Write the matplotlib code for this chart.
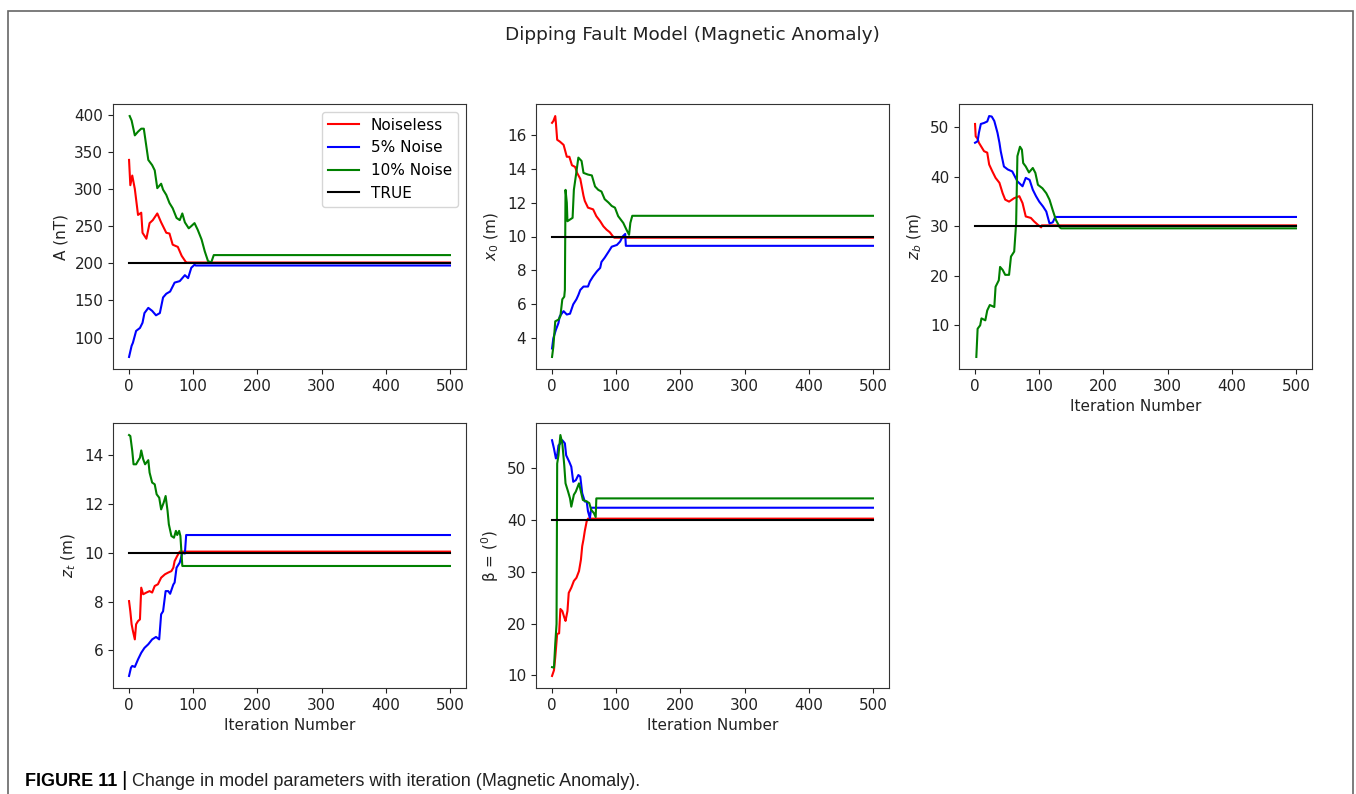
import matplotlib
matplotlib.use("Agg")
import matplotlib.pyplot as plt
from matplotlib.patches import Rectangle

# ---------------- data ----------------
series_labels = ["Noiseless", "5% Noise", "10% Noise", "TRUE"]
series_colors = ["red", "blue", "green", "black"]
ylabels = ["A (nT)", "$x_0$ (m)", "$z_b$ (m)", "$z_t$ (m)", "β = ($^0$)"]
true_values = [200, 10, 30, 10, 40]
n_iter = 500

# Panel A
A_noiseless_it = [0, 2, 5, 9, 14, 19, 21, 27, 32, 37, 44, 50, 58, 63, 68, 76, 82, 89, 90, 500]
A_noiseless_v = [339, 305, 318, 300, 265, 268, 241, 233, 254, 258, 267, 255, 241, 240, 225, 222, 210, 201, 201, 201]
A_n5_it = [0, 4, 6, 11, 17, 21, 24, 30, 36, 42, 48, 53, 58, 64, 71, 79, 87, 92, 97, 102, 104, 500]
A_n5_v = [74, 89, 93, 109, 113, 120, 133, 140, 136, 130, 133, 154, 159, 162, 174, 176, 184, 180, 194, 198, 197, 197]
A_n10_it = [1, 4, 9, 14, 19, 23, 27, 30, 36, 40, 44, 50, 53, 58, 63, 68, 74, 79, 83, 87, 93, 97, 102, 107, 113, 118, 123, 128, 132, 500]
A_n10_v = [398, 392, 372, 377, 381, 381, 357, 339, 332, 325, 301, 307, 299, 292, 281, 274, 261, 258, 267, 255, 247, 250, 254, 245, 232, 216, 203, 201, 211, 211]

# Panel x0
X0_noiseless_it = [0, 2, 5, 6, 8, 12, 18, 23, 27, 31, 36, 39, 44, 49, 51, 56, 64, 69, 75, 80, 85, 90, 95, 97, 500]
X0_noiseless_v = [16.7, 16.8, 17.1, 16.7, 15.7, 15.6, 15.4, 14.7, 14.7, 14.2, 14.1, 13.75, 13.4, 12.4, 12.1, 11.7, 11.6, 11.2, 10.9, 10.6, 10.4, 10.25, 10.0, 9.93, 9.93]
X0_n5_it = [0, 2, 6, 10, 12, 18, 23, 28, 33, 38, 41, 44, 49, 56, 59, 64, 70, 75, 77, 82, 88, 93, 101, 106, 110, 114, 115, 500]
X0_n5_v = [3.4, 4.0, 4.5, 4.9, 5.3, 5.6, 5.4, 5.45, 6.0, 6.3, 6.55, 6.85, 7.05, 7.05, 7.35, 7.65, 7.95, 8.15, 8.5, 8.75, 9.1, 9.4, 9.5, 9.7, 10.0, 10.15, 9.45, 9.45]
X0_n10_it = [0, 2, 5, 10, 13, 16, 19, 20, 21, 23, 24, 28, 32, 34, 37, 41, 46, 49, 56, 62, 67, 72, 77, 82, 88, 93, 98, 103, 111, 116, 120, 122, 125, 500]
X0_n10_v = [2.9, 3.5, 5.0, 5.1, 5.3, 6.3, 6.45, 6.85, 12.75, 12.0, 10.9, 11.0, 11.1, 12.75, 13.55, 14.65, 14.45, 13.75, 13.65, 13.6, 12.95, 12.75, 12.65, 12.2, 12.0, 11.8, 11.7, 11.2, 10.8, 10.4, 10.1, 10.8, 11.22, 11.22]

# Panel zb
ZB_noiseless_it = [0, 1, 4, 6, 14, 19, 22, 27, 32, 38, 43, 47, 53, 61, 69, 74, 79, 87, 92, 98, 103, 104, 500]
ZB_noiseless_v = [50.7, 48.2, 47.7, 46.9, 45.2, 44.9, 42.5, 41.1, 39.8, 38.8, 36.7, 35.4, 35.0, 35.7, 36.1, 34.7, 32.0, 31.7, 31.0, 30.3, 29.8, 30.2, 30.2]
ZB_n5_it = [0, 4, 6, 9, 14, 19, 22, 26, 30, 35, 38, 40, 45, 51, 58, 66, 74, 79, 85, 90, 95, 100, 106, 111, 116, 121, 125, 500]
ZB_n5_v = [46.9, 47.2, 48.9, 50.7, 50.9, 51.2, 52.3, 52.2, 51.3, 48.9, 46.9, 45.2, 42.1, 41.5, 41.1, 39.1, 38.1, 39.8, 39.4, 37.4, 36.1, 35.0, 34.0, 33.0, 30.6, 30.8, 31.9, 31.9]
ZB_n10_it = [2, 4, 8, 10, 16, 19, 23, 30, 32, 37, 39, 43, 47, 53, 56, 61, 64, 66, 70, 73, 75, 79, 84, 90, 94, 98, 105, 111, 116, 121, 126, 132, 134, 500]
ZB_n10_v = [3.6, 9.3, 10.0, 11.4, 11.0, 13.0, 14.1, 13.7, 17.8, 19.1, 21.8, 21.2, 20.2, 20.2, 23.9, 24.9, 30.6, 44.2, 46.1, 45.5, 42.8, 42.1, 40.9, 41.8, 40.8, 38.4, 37.7, 36.7, 35.4, 33.3, 31.3, 29.8, 29.6, 29.6]

# Panel zt
ZT_noiseless_it = [0, 2, 4, 6, 9, 11, 14, 17, 19, 22, 27, 32, 36, 40, 45, 50, 56, 61, 66, 69, 71, 75, 79, 500]
ZT_noiseless_v = [8.02, 7.6, 7.07, 6.8, 6.45, 7.07, 7.2, 7.27, 8.57, 8.3, 8.37, 8.43, 8.37, 8.64, 8.71, 8.98, 9.12, 9.19, 9.25, 9.39, 9.66, 9.87, 10.05, 10.05]
ZT_n5_it = [0, 3, 5, 9, 14, 19, 24, 30, 36, 42, 47, 50, 53, 57, 61, 64, 69, 71, 74, 79, 83, 87, 89, 500]
ZT_n5_v = [4.95, 5.29, 5.36, 5.32, 5.63, 5.9, 6.1, 6.25, 6.45, 6.55, 6.45, 7.48, 7.6, 8.43, 8.43, 8.32, 8.7, 8.78, 9.39, 9.6, 10.0, 9.97, 10.73, 10.73]
ZT_n10_it = [0, 2, 5, 7, 11, 14, 17, 19, 22, 25, 30, 32, 36, 40, 43, 47, 50, 54, 57, 60, 62, 66, 70, 73, 75, 78, 80, 82, 83, 500]
ZT_n10_v = [14.83, 14.79, 14.18, 13.63, 13.63, 13.77, 13.9, 14.2, 13.84, 13.63, 13.8, 13.29, 12.88, 12.81, 12.4, 12.26, 11.78, 12.06, 12.33, 11.72, 11.17, 10.69, 10.62, 10.9, 10.73, 10.9, 10.69, 9.87, 9.46, 9.46]

# Panel beta
B_noiseless_it = [0, 3, 5, 8, 11, 13, 16, 19, 21, 24, 26, 30, 34, 38, 42, 45, 47, 49, 51, 54, 56, 500]
B_noiseless_v = [9.9, 11.0, 13.5, 18.0, 18.1, 22.8, 22.4, 21.2, 20.5, 22.4, 25.9, 26.9, 28.2, 28.8, 30.1, 32.3, 34.9, 36.2, 37.8, 39.7, 40.2, 40.2]
B_n5_it = [0, 3, 6, 8, 10, 13, 16, 20, 22, 27, 30, 33, 37, 41, 44, 47, 51, 54, 56, 59, 61, 500]
B_n5_v = [55.3, 53.7, 51.8, 52.4, 54.3, 54.7, 55.3, 54.7, 52.4, 51.1, 50.2, 47.3, 47.6, 48.6, 48.3, 45.1, 43.5, 43.5, 41.6, 40.3, 42.3, 42.3]
B_n10_it = [0, 3, 5, 7, 8, 10, 13, 16, 19, 21, 25, 28, 30, 34, 37, 42, 45, 48, 54, 58, 61, 65, 68, 69, 500]
B_n10_v = [11.6, 11.5, 16.1, 19.9, 50.8, 52.4, 56.3, 54.7, 50.5, 47.0, 45.4, 44.1, 42.5, 44.8, 45.4, 47.0, 45.4, 43.8, 43.5, 43.2, 41.9, 41.3, 40.5, 44.1, 44.1]

panels = [
    [(A_noiseless_it, A_noiseless_v), (A_n5_it, A_n5_v), (A_n10_it, A_n10_v)],
    [(X0_noiseless_it, X0_noiseless_v), (X0_n5_it, X0_n5_v), (X0_n10_it, X0_n10_v)],
    [(ZB_noiseless_it, ZB_noiseless_v), (ZB_n5_it, ZB_n5_v), (ZB_n10_it, ZB_n10_v)],
    [(ZT_noiseless_it, ZT_noiseless_v), (ZT_n5_it, ZT_n5_v), (ZT_n10_it, ZT_n10_v)],
    [(B_noiseless_it, B_noiseless_v), (B_n5_it, B_n5_v), (B_n10_it, B_n10_v)],
]

# ---------------- figure ----------------
W, H = 1356, 794
fig = plt.figure(figsize=(W / 100, H / 100), dpi=100)
fig.patch.set_facecolor("white")

# outer frame
fig.add_artist(Rectangle((8 / W, -0.02), (1353 - 8) / W, 1 - 11 / H + 0.02,
                         transform=fig.transFigure, fill=False,
                         edgecolor="#666666", linewidth=1.2))

col_left = [113, 536, 959]
ax_w = 353
row_top = [104, 423]
ax_h = 265

positions = [(0, 0), (0, 1), (0, 2), (1, 0), (1, 1)]
for i, (r, c) in enumerate(positions):
    left = col_left[c] / W
    bottom = 1 - (row_top[r] + ax_h) / H
    ax = fig.add_axes([left, bottom, ax_w / W, ax_h / H])
    for (it, v), lab, col in zip(panels[i], series_labels[:3], series_colors[:3]):
        ax.plot(it, v, color=col, lw=1.5, label=lab)
    ax.plot([0, n_iter], [true_values[i], true_values[i]], color="black", lw=1.5, label=series_labels[3])
    ax.set_ylabel(ylabels[i], fontsize=11, color="#222222")
    ax.set_xticks([0, 100, 200, 300, 400, 500])
    ax.tick_params(labelsize=11, colors="#222222")
    for s in ax.spines.values():
        s.set_color("#333333")
    if i in (2, 3, 4):
        ax.set_xlabel("Iteration Number", fontsize=11, color="#222222")
    if i == 0:
        ax.legend(loc="upper right", fontsize=11)

fig.text(0.511, 1 - 35 / H, "Dipping Fault Model (Magnetic Anomaly)", ha="center", va="center",
         fontsize=13.3, color="#222222")

# caption
cap_fam = ["Liberation Sans Narrow", "Liberation Sans", "DejaVu Sans"]
fig.canvas.draw()
renderer = fig.canvas.get_renderer()
y_cap = 1 - 781 / H
t1 = fig.text(25 / W, y_cap, "FIGURE 11", fontsize=13, fontweight="bold", family=cap_fam, va="center", ha="left")
bb = t1.get_window_extent(renderer)
t2 = fig.text((bb.x1 + 4) / W, y_cap, "|", fontsize=15, family=cap_fam, va="center", ha="left")
bb2 = t2.get_window_extent(renderer)
fig.text((bb2.x1 + 5) / W, y_cap, "Change in model parameters with iteration (Magnetic Anomaly).",
         fontsize=13, family=cap_fam, va="center", ha="left", color="#222222")

fig.savefig("out.png", dpi=100)
